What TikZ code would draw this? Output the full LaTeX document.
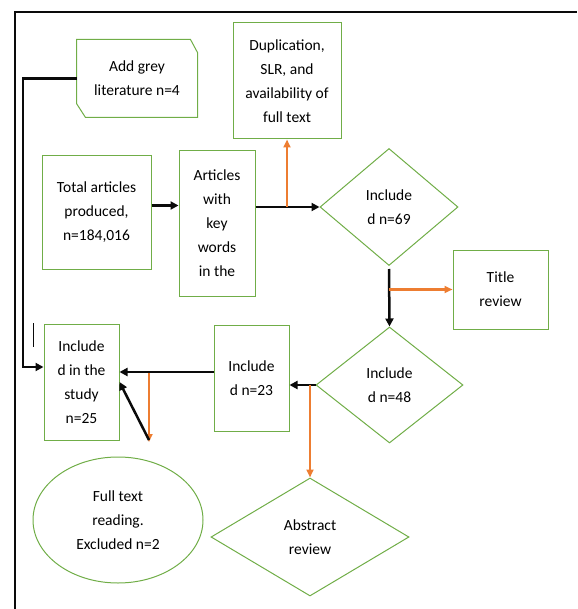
\documentclass[tikz,border=0pt]{standalone}
\usepackage{fontspec}
\setmainfont{Carlito}
\usepackage{tikz}
\usetikzlibrary{shapes.geometric, arrows.meta, calc}
\definecolor{mygreen}{RGB}{112,173,71}
\definecolor{myorange}{RGB}{237,125,49}
\definecolor{mydark}{RGB}{10,10,10}
\tikzset{
  block/.style={rectangle, draw=mygreen, inner sep=0pt, align=center,
    font=\fontsize{15.5}{24}\selectfont, line width=1pt},
  decision/.style={diamond, draw=mygreen, inner sep=0pt, align=center,
    font=\fontsize{15.5}{24}\selectfont, line width=1pt},
  oval/.style={ellipse, draw=mygreen, inner sep=0pt, align=center,
    font=\fontsize{15.5}{24}\selectfont, line width=1pt},
  arrow/.style={-{Triangle[length=8pt, width=8pt]}, line width=2.5pt, color=mydark},
  orangearrow/.style={-{Triangle[length=8pt, width=7pt]}, line width=2.2pt, color=myorange},
  line/.style={line width=2.6pt, color=mydark}
}

\begin{document}
\begin{tikzpicture}[x=1pt, y=-1pt]
  \useasboundingbox (0,0) rectangle (577,609);
  \draw[line] (15,609) -- (15,12) -- (577,12);
  \draw[mydark, line width=1pt] (33,323) -- (33,347);

  \node[block, draw=none, minimum width=120pt, minimum height=77pt] (grey) at (137,78.5) {Add grey\\literature n=4};
  \draw[mygreen, line width=1pt] (grey.north west) -- ([xshift=-7pt]grey.north east)
    -- ([yshift=-13pt]grey.north east) -- (grey.south east)
    -- ([xshift=9pt]grey.south west) -- ([yshift=14pt]grey.south west) -- cycle;
  \node[block, minimum width=108pt, minimum height=116pt] (dup) at (287,81) {Duplication,\\SLR, and\\availability of\\full text};
  \node[block, minimum width=109pt, minimum height=113pt] (tot) at (96.5,212.5) {Total articles\\produced,\\n=184,016};
  \node[block, minimum width=76pt, minimum height=145pt] (art) at (217,223.5) {Articles\\with\\key\\words\\in the};
  \node[decision, minimum width=138pt, minimum height=117pt] (inc69) at (389,207) {Include\\d n=69};
  \node[block, minimum width=95pt, minimum height=79pt] (title) at (500.5,289.5) {Title\\review};
  \node[decision, minimum width=147pt, minimum height=116pt] (inc48) at (389.5,385) {Include\\d n=48};
  \node[block, minimum width=75pt, minimum height=106pt] (n23) at (251.5,378) {Include\\d n=23};
  \node[decision, minimum width=198pt, minimum height=118pt] (abs) at (310,537) {Abstract\\review};
  \node[block, minimum width=75pt, minimum height=116pt] (study) at (81.5,382) {Include\\d in the\\study\\n=25};
  \node[oval, minimum width=170pt, minimum height=126pt] (full) at (118,520) {Full text\\reading.\\Excluded n=2};

  \coordinate (gl) at (23,367);
  \coordinate (cut) at (149,442);

  \draw[arrow] ([yshift=7pt]tot.east) -- ([yshift=7pt]tot.east -| art.west);
  \draw[arrow] (art.east |- inc69.west) -- (inc69.west);
  \draw[orangearrow] (dup.south |- inc69.west) -- (dup.south);
  \draw[arrow] ([yshift=-3pt]inc69.south) -- (inc48.north);
  \draw[orangearrow] (inc69.south |- title.west) -- (title.west);
  \draw[arrow] (inc48.west) -- (inc48.west -| n23.east);
  \draw[orangearrow] (abs.north |- inc48.west) -- (abs.north);
  \draw[arrow] ([yshift=6pt]n23.west) -- ([yshift=6pt]n23.west -| study.east);
  \draw[orangearrow] (cut |- study.east) ++(0,-9) -- (cut);
  \draw[arrow] ([yshift=2pt]cut) -- (study.east);
  \draw[arrow] (grey.west) -| (gl) -- (gl -| study.west);
\end{tikzpicture}
\end{document}
